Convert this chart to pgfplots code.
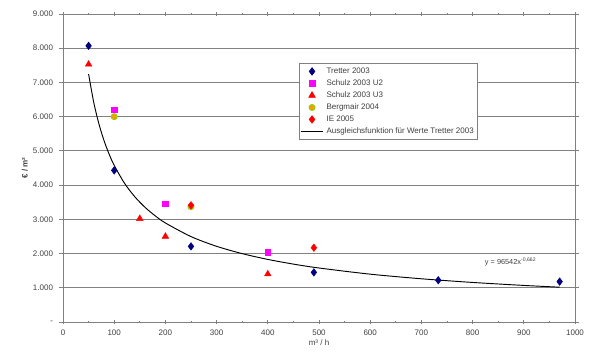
\documentclass[border=0pt]{standalone}
\usepackage{fontspec}
\setmainfont{Liberation Sans}
\usepackage{pgfplots}
\pgfplotsset{compat=1.18}
\definecolor{tick}{HTML}{404040}
\definecolor{gridc}{HTML}{808080}
\definecolor{navyd}{HTML}{000080}
\definecolor{magc}{HTML}{FF00FF}
\definecolor{redc}{HTML}{FF0000}
\definecolor{oliv}{HTML}{99CC00}
\definecolor{orng}{HTML}{FF9900}
\begin{document}
\begin{tikzpicture}
\begin{axis}[
  name=ax,
  scale only axis,
  width=384pt, height=231pt,
  xmin=0, xmax=1000, ymin=0, ymax=9000,
  xtick={0,100,...,1000},
  xticklabels={0,100,200,300,400,500,600,700,800,900,1000},
  minor xtick={50,150,...,950},
  ytick={0,1000,...,9000},
  yticklabels={-,1.000,2.000,3.000,4.000,5.000,6.000,7.000,8.000,9.000},
  /pgf/number format/assume math mode=true,
  ymajorgrids,
  grid style={gridc, line width=0.6pt},
  axis line style={gridc, line width=0.6pt},
  tick style={gridc, line width=0.6pt},
  major tick length=3pt, minor tick length=2pt,
  xtick align=center, ytick align=outside,
  tick label style={font=\fontsize{6}{7}\selectfont, text=tick},
  xticklabel style={yshift=-1pt},
  yticklabel style={xshift=-1pt},
  xlabel={m³ / h},
  ylabel={\bfseries € / m²},
  label style={font=\fontsize{6}{7}\selectfont, text=tick},
  xlabel style={yshift=4pt},
  ylabel style={yshift=-3pt},
  legend style={at={(0.46,0.84)}, anchor=north west, font=\fontsize{6}{7.2}\selectfont, text=tick, draw=gridc, line width=0.5pt, inner sep=1pt, row sep=-0.8pt, cells={anchor=west}},
  legend cell align=left,
  clip=false,
]
\addplot[only marks, mark=diamond*, mark size=2.8pt, navyd, mark options={fill=navyd}] coordinates {(50,8070) (100,4430) (250,2210) (490,1450) (733,1220) (970,1180)};
\addlegendentry{Tretter 2003}
\addplot[only marks, mark=square*, mark size=2.1pt, magc, mark options={fill=magc}] coordinates {(100,6200) (200,3450) (400,2030)};
\addlegendentry{Schulz 2003 U2}
\addplot[only marks, mark=triangle*, mark size=2.8pt, redc, mark options={fill=redc}] coordinates {(50,7530) (150,3020) (200,2500) (400,1400)};
\addlegendentry{Schulz 2003 U3}
\addplot[only marks, mark=*, mark size=2.2pt, oliv, mark options={fill=orng, draw=oliv, line width=0.8pt}] coordinates {(100,6000) (250,3370)};
\addlegendentry{Bergmair 2004}
\addplot[only marks, mark=diamond*, mark size=2.8pt, redc, mark options={fill=redc}] coordinates {(250,3410) (490,2170)};
\addlegendentry{IE 2005}
\addplot[black, line width=0.7pt, smooth, no marks] coordinates {
(50,7244) (60,6421) (70,5798) (80,5307) (90,4909) (100,4578) (120,4058) (140,3664) (160,3354) (180,3103) (200,2894) (250,2496) (300,2212) (350,1998) (400,1829) (450,1692) (500,1578) (600,1398) (700,1263) (800,1156) (900,1069) (970,1017)};
\addlegendentry{Ausgleichsfunktion für Werte Tretter 2003}
\node[font=\fontsize{5.5}{6}\selectfont, text=tick, anchor=west] at (axis cs:815,1750) {y = 96542x\textsuperscript{-0,662}};
\end{axis}
\path ([shift={(-47.25pt,-26.25pt)}]ax.south west) rectangle ++(450pt,267.75pt);
\end{tikzpicture}
\end{document}
